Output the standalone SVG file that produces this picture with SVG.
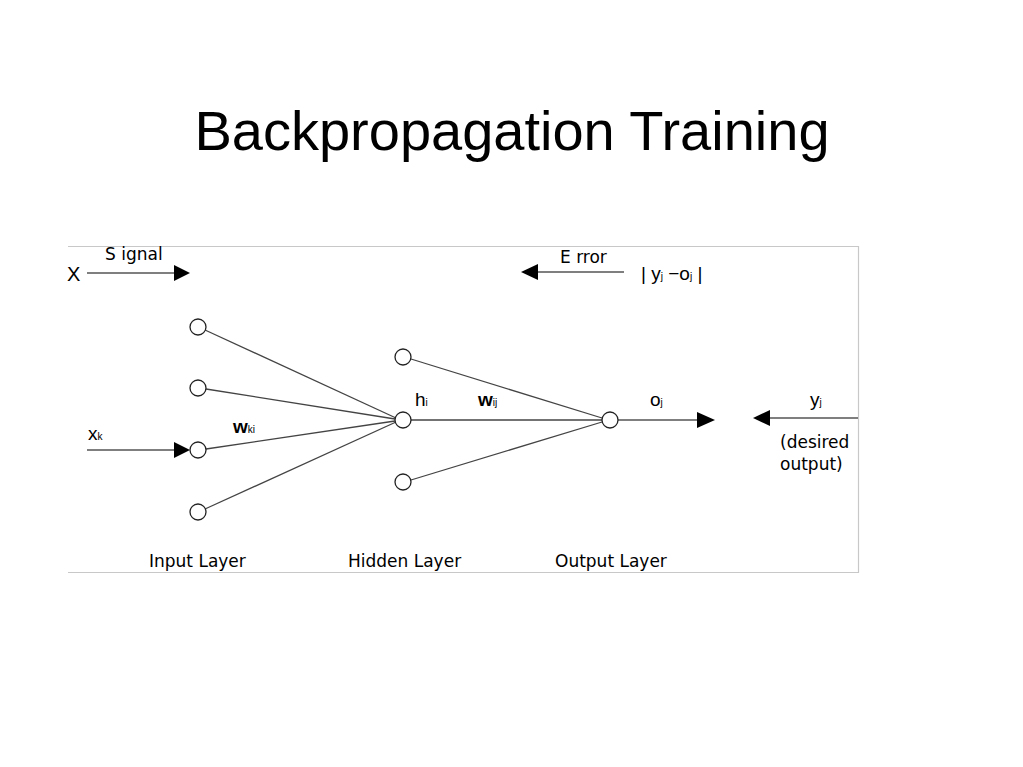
<svg xmlns="http://www.w3.org/2000/svg" width="1023" height="767" viewBox="0 0 1023 767">
<style>
.title{font-family:"Liberation Sans",Arial,sans-serif;font-size:56px;fill:#000}
.lbl{font-family:"DejaVu Sans","Liberation Sans",sans-serif;font-size:17px;fill:#000}
.sym{font-family:"Liberation Sans",Arial,sans-serif;font-size:19px;fill:#000}
.sub{font-size:10px}
.frame{stroke:#c8c8c8;stroke-width:1.2;fill:none}
.edge{stroke:#444;stroke-width:1.3;fill:none}
.arr{stroke:#000;stroke-width:1.2;fill:none}
.head{fill:#000}
.node{fill:#fff;stroke:#222;stroke-width:1.3}
</style>
<rect width="1023" height="767" fill="#fff"/>
<text class="title" x="512" y="150" text-anchor="middle">Backpropagation Training</text>
<path class="frame" d="M68 246.5H858.5V572.5H68"/>
<g id="connectors">
<line class="edge" x1="205" y1="330" x2="396" y2="418"/>
<line class="edge" x1="206" y1="389" x2="395" y2="419"/>
<line class="edge" x1="206" y1="449" x2="395" y2="421"/>
<line class="edge" x1="205" y1="509" x2="396" y2="422"/>
<line class="edge" x1="411" y1="359" x2="602" y2="418"/>
<line class="edge" x1="411" y1="420" x2="602" y2="420"/>
<line class="edge" x1="411" y1="480" x2="602" y2="422"/>
<line class="arr" x1="87" y1="273" x2="176" y2="273"/>
<polygon class="head" points="174,265 190,273 174,281"/>
<line class="arr" x1="537" y1="272" x2="624" y2="272"/>
<polygon class="head" points="538,264 521,272 538,280"/>
<line class="arr" x1="618" y1="420" x2="698" y2="420"/>
<polygon class="head" points="697,412 715,420 697,428"/>
<line class="arr" x1="770" y1="418" x2="858" y2="418"/>
<polygon class="head" points="770,410 753,418 770,426"/>
<line class="arr" x1="87" y1="450" x2="176" y2="450"/>
<polygon class="head" points="174,442 190,450 174,458"/>
</g>
<g id="input1"><circle class="node" cx="198" cy="327" r="8"/></g>
<g id="input2"><circle class="node" cx="198" cy="388" r="8"/></g>
<g id="input3"><circle class="node" cx="198" cy="450" r="8"/></g>
<g id="input4"><circle class="node" cx="198" cy="512" r="8"/></g>
<g id="hidden1"><circle class="node" cx="403" cy="357" r="8"/></g>
<g id="hidden2"><circle class="node" cx="403" cy="420" r="8"/></g>
<g id="hidden3"><circle class="node" cx="403" cy="482" r="8"/></g>
<g id="output"><circle class="node" cx="610" cy="420" r="8"/></g>
<g id="labels">
<text class="lbl" x="105" y="260">S ignal</text>
<text class="sym" x="67" y="281" style="font-size:20px">X</text>
<text class="lbl" x="560" y="263">E rror</text>
<text class="sym" x="641" y="280">| y<tspan class="sub">j</tspan> −o<tspan class="sub">j</tspan> |</text>
<text class="sym" x="415" y="406">h<tspan class="sub">i</tspan></text>
<text class="sym" x="478" y="406" font-weight="bold">w<tspan class="sub" font-weight="normal">ij</tspan></text>
<text class="sym" x="650" y="406">o<tspan class="sub">j</tspan></text>
<text class="sym" x="810" y="406">y<tspan class="sub">j</tspan></text>
<text class="lbl" x="780" y="448">(desired</text>
<text class="lbl" x="780" y="470">output)</text>
<text class="sym" x="88" y="440">x<tspan class="sub">k</tspan></text>
<text class="sym" x="233" y="433" font-weight="bold">w<tspan class="sub" font-weight="normal">ki</tspan></text>
<text class="lbl" x="149" y="567">Input Layer</text>
<text class="lbl" x="348" y="567">Hidden Layer</text>
<text class="lbl" x="555" y="567">Output Layer</text>
</g>
</svg>
